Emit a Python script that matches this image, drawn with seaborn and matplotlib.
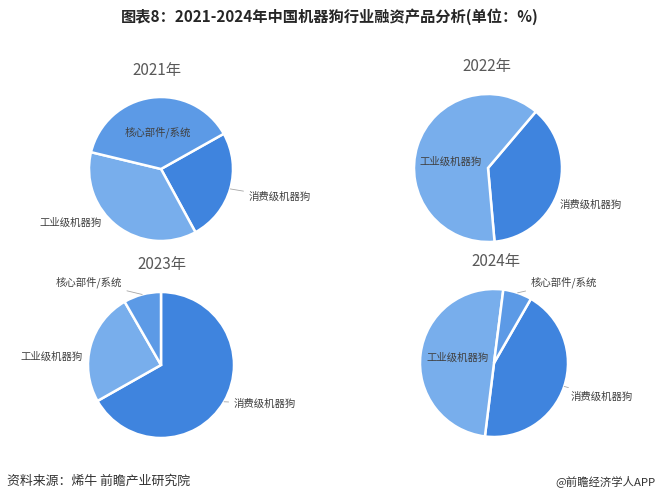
import matplotlib
matplotlib.use("Agg")
import numpy as np
import matplotlib.pyplot as plt
import seaborn as sns

# ---- data (share of financing events, %) ----
years = ["2021年", "2022年", "2023年", "2024年"]
categories = ["消费级机器狗", "工业级机器狗", "核心部件/系统"]
share_2021 = [25.2, 36.7, 38.1]
share_2022 = [37.4, 62.6, 0.0]
share_2023 = [66.8, 24.9, 8.3]
share_2024 = [43.7, 50.1, 6.3]
shares = [share_2021, share_2022, share_2023, share_2024]

colors = {"消费级机器狗": "#3F84DE", "工业级机器狗": "#78AEEC", "核心部件/系统": "#5C9AE6"}

# ---- layout (pixels, y from top) ----
W, H = 660, 500
pie_boxes = [(161, 169, 72), (488, 168, 74), (161, 365, 73), (494, 363, 74)]
start_angles = [29.3, 49.7, 90, 60.1]
title_dx = [-0.06, -0.01, 0.01, 0.03]
# label position in radius units: (x, y, ha, leader)
label_pos = [
    {"核心部件/系统": (-0.04, 0.51, "center", False),
     "消费级机器狗": (1.21, -0.39, "left", True),
     "工业级机器狗": (-0.82, -0.74, "right", False)},
    {"工业级机器狗": (-0.92, 0.08, "left", False),
     "消费级机器狗": (0.97, -0.50, "left", False)},
    {"核心部件/系统": (-0.53, 1.14, "right", True),
     "工业级机器狗": (-1.07, 0.11, "right", False),
     "消费级机器狗": (0.99, -0.53, "left", True)},
    {"核心部件/系统": (0.49, 1.09, "left", True),
     "工业级机器狗": (-0.91, 0.07, "left", False),
     "消费级机器狗": (1.03, -0.45, "left", True)},
]

sns.set_theme(style="white")
plt.rcParams['font.family'] = ['Noto Sans CJK SC', 'DejaVu Sans']

fig = plt.figure(figsize=(W / 100, H / 100), dpi=100)
fig.patch.set_facecolor("white")

for i, (cx, cy, r) in enumerate(pie_boxes):
    ax = fig.add_axes([(cx - r) / W, 1 - (cy + r) / H, 2 * r / W, 2 * r / H])
    vals = [v for v in shares[i] if v > 0]
    cats = [c for c, v in zip(categories, shares[i]) if v > 0]
    wedges, _ = ax.pie(vals, colors=[colors[c] for c in cats], startangle=start_angles[i],
                       counterclock=False, radius=1,
                       wedgeprops=dict(edgecolor="white", linewidth=1.8))
    ax.set_xlim(-1, 1)
    ax.set_ylim(-1, 1)
    ax.axis("off")

    ax.text(title_dx[i], 1.37, years[i], ha="center", va="center",
            fontsize=11, color="#595959")

    for w, c in zip(wedges, cats):
        x, y, ha, leader = label_pos[i][c]
        if leader:
            mid = np.deg2rad((w.theta1 + w.theta2) / 2)
            ax.annotate(c, xy=(np.cos(mid), np.sin(mid)), xytext=(x, y),
                        ha=ha, va="center", fontsize=7.5, color="#404040",
                        annotation_clip=False,
                        arrowprops=dict(arrowstyle="-", color="#A6A6A6", lw=0.6,
                                        shrinkA=1, shrinkB=0))
        else:
            ax.text(x, y, c, ha=ha, va="center", fontsize=7.5, color="#404040")

fig.text(0.5, 1 - 17 / H, "图表8：2021-2024年中国机器狗行业融资产品分析(单位：%)",
         ha="center", va="center", fontsize=11, fontweight="bold", color="#262626")
fig.text(7 / W, 1 - 481 / H, "资料来源：烯牛 前瞻产业研究院",
         ha="left", va="center", fontsize=9.3, color="#333333")
fig.text(655 / W, 1 - 481 / H, "@前瞻经济学人APP",
         ha="right", va="center", fontsize=8.2, color="#333333")

fig.savefig("out.png", dpi=100, facecolor="white")
